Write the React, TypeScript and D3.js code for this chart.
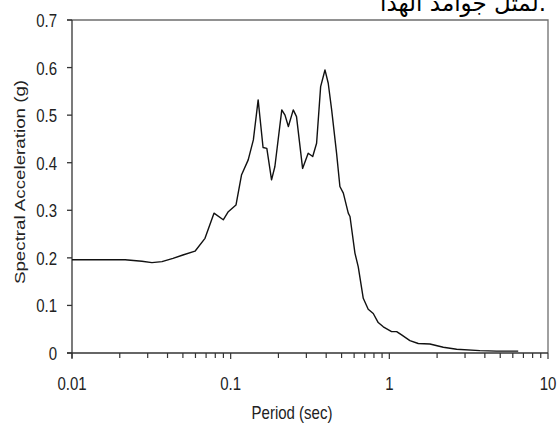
import React, { useEffect, useRef } from 'react';
import * as d3 from 'd3';

// spectrum: period (sec) and spectral acceleration (g)
const periods = [
  0.01, 0.0216, 0.0276, 0.0319, 0.0369, 0.0433, 0.05, 0.0596, 0.0689, 0.0785,
  0.0898, 0.0966, 0.108, 0.117, 0.129, 0.139, 0.149, 0.16, 0.169, 0.181,
  0.19, 0.21, 0.22, 0.231, 0.248, 0.26, 0.284, 0.308, 0.329, 0.348,
  0.369, 0.393, 0.412, 0.433, 0.465, 0.488, 0.513, 0.551, 0.565, 0.607,
  0.637, 0.685, 0.736, 0.792, 0.851, 0.916, 1.033, 1.112, 1.195, 1.348,
  1.521, 1.802, 2.188, 2.656, 3.72, 4.74, 6.49,
];
const accel = [
  0.196, 0.196, 0.193, 0.19, 0.192, 0.199, 0.206, 0.214, 0.241, 0.294,
  0.28, 0.297, 0.311, 0.374, 0.406, 0.448, 0.532, 0.432, 0.43, 0.364,
  0.392, 0.511, 0.5, 0.476, 0.511, 0.497, 0.388, 0.42, 0.413, 0.441,
  0.56, 0.595, 0.567, 0.511, 0.42, 0.35, 0.336, 0.294, 0.287, 0.21,
  0.181, 0.115, 0.092, 0.083, 0.064, 0.055, 0.045, 0.045, 0.038, 0.026,
  0.02, 0.019, 0.012, 0.008, 0.005, 0.004, 0.004,
];

const yTicks = [0, 0.1, 0.2, 0.3, 0.4, 0.5, 0.6, 0.7];
const yTickLabels = ['0', '0.1', '0.2', '0.3', '0.4', '0.5', '0.6', '0.7'];
const xMajor = [0.01, 0.1, 1, 10];
const xMajorLabels = ['0.01', '0.1', '1', '10'];

const W = 557;
const H = 428;
const FONT = 'Arial, "Liberation Sans", sans-serif';

const App = () => {
  const svgRef = useRef<SVGSVGElement>(null);

  useEffect(() => {
    const svg = d3.select(svgRef.current);
    svg.selectAll('*').remove();

    const margin = { top: 20, right: 9, bottom: 75, left: 72 };
    const x = d3.scaleLog().domain([0.01, 10]).range([margin.left, W - margin.right]);
    const y = d3.scaleLinear().domain([0, 0.7]).range([H - margin.bottom, margin.top]);
    const x0 = x.range()[0];
    const x1 = x.range()[1];
    const y0 = y.range()[0];
    const y1 = y.range()[1];

    // arabic line cut off at the top of the page
    svg
      .append('text')
      .attr('x', 546)
      .attr('y', 11)
      .attr('text-anchor', 'end')
      .attr('font-family', '"DejaVu Sans", serif')
      .attr('font-size', 23)
      .attr('fill', '#000')
      .text('لمثل جوامد الهدا.');

    // frame (top and right)
    svg
      .append('path')
      .attr('d', `M${x0 - 5},${y1}H${x1}V${y0}`)
      .attr('fill', 'none')
      .attr('stroke', '#6e6e6e')
      .attr('stroke-width', 1.3);

    // y axis
    const gy = svg.append('g');
    gy.append('line')
      .attr('x1', x0).attr('x2', x0)
      .attr('y1', y1).attr('y2', y0 + 5)
      .attr('stroke', '#333').attr('stroke-width', 1.3);
    yTicks.forEach((t, i) => {
      gy.append('line')
        .attr('x1', x0 - 5).attr('x2', x0)
        .attr('y1', y(t)).attr('y2', y(t))
        .attr('stroke', '#333').attr('stroke-width', 1.3);
      gy.append('text')
        .attr('transform', `translate(57,${y(t) + 7}) scale(1,1.25)`)
        .attr('text-anchor', 'end')
        .attr('font-family', FONT)
        .attr('font-size', 15)
        .attr('fill', '#222')
        .text(yTickLabels[i]);
    });

    // x axis
    const gx = svg.append('g');
    gx.append('line')
      .attr('x1', x0 - 5).attr('x2', x1)
      .attr('y1', y0).attr('y2', y0)
      .attr('stroke', '#333').attr('stroke-width', 1.3);
    x.ticks().forEach((t) => {
      const major = xMajor.some((m) => Math.abs(m - t) < 1e-9);
      gx.append('line')
        .attr('x1', x(t)).attr('x2', x(t))
        .attr('y1', y0).attr('y2', y0 + (major ? 6 : 5))
        .attr('stroke', '#333').attr('stroke-width', 1.2);
    });
    xMajor.forEach((t, i) => {
      gx.append('text')
        .attr('transform', `translate(${x(t)},390) scale(1,1.25)`)
        .attr('text-anchor', 'middle')
        .attr('font-family', FONT)
        .attr('font-size', 15)
        .attr('fill', '#222')
        .text(xMajorLabels[i]);
    });

    // axis titles
    svg
      .append('text')
      .attr('transform', `translate(292,419) scale(1,1.25)`)
      .attr('text-anchor', 'middle')
      .attr('font-family', FONT)
      .attr('font-size', 15)
      .attr('fill', '#222')
      .text('Period (sec)');
    svg
      .append('text')
      .attr('transform', `translate(25,182) rotate(-90) scale(1.25,1)`)
      .attr('text-anchor', 'middle')
      .attr('font-family', FONT)
      .attr('font-size', 15)
      .attr('fill', '#222')
      .text('Spectral Acceleration (g)');

    // spectrum line
    const data = periods.map((p, i) => ({ p, a: accel[i] }));
    const line = d3
      .line<{ p: number; a: number }>()
      .x((d) => x(d.p))
      .y((d) => y(d.a));
    svg
      .append('path')
      .datum(data)
      .attr('d', line)
      .attr('fill', 'none')
      .attr('stroke', '#111')
      .attr('stroke-width', 1.4)
      .attr('stroke-linejoin', 'round');
  }, []);

  return (
    <svg
      ref={svgRef}
      width={W}
      height={H}
      style={{ position: 'absolute', left: 0, top: 0, background: 'white' }}
    />
  );
};

export default App;
